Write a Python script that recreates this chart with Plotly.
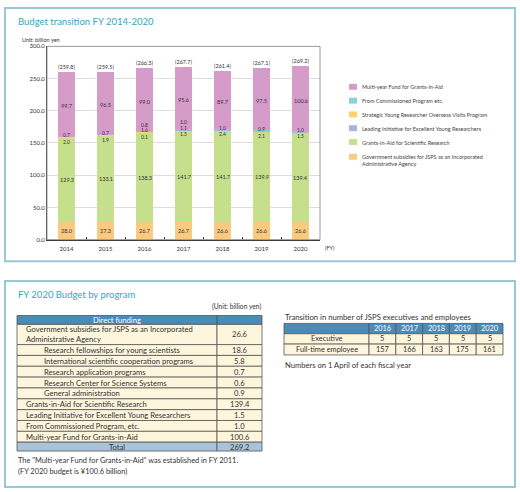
import plotly.graph_objects as go

# ---------------- data ----------------
years = ["2014", "2015", "2016", "2017", "2018", "2019", "2020"]
gov = [28.0, 27.3, 26.7, 26.7, 26.6, 26.6, 26.6]
grants = [129.3, 133.1, 138.3, 141.7, 141.7, 139.9, 139.4]
leading = [0, 0, 0.1, 1.5, 2.4, 2.1, 1.5]
strategic = [2.0, 1.9, 1.6, 1.1, 0, 0, 0]
commissioned = [0.7, 0.7, 0.8, 1.0, 1.0, 0.9, 1.0]
multi = [99.7, 96.5, 99.0, 95.6, 89.7, 97.5, 100.6]
totals = [259.8, 259.5, 266.3, 267.7, 261.4, 267.1, 269.2]

series_names = [
    "Government subsidies for JSPS as an Incorporated<br>Administrative Agency",
    "Grants-in-Aid for Scientific Research",
    "Leading Initiative for Excellent Young Researchers",
    "Strategic Young Researcher Overseas Visits Program",
    "From Commissioned Program etc.",
    "Multi-year Fund for Grants-in-Aid",
]
series_values = [gov, grants, leading, strategic, commissioned, multi]
series_colors = ["#fcca7c", "#c6df8d", "#a9b3db", "#fdd46b", "#84d3dc", "#d59cc9"]

y_ticks = [0, 50, 100, 150, 200, 250, 300]

prog_labels = [
    "Government subsidies for JSPS as an Incorporated<br>Administrative Agency",
    "Research fellowships for young scientists",
    "International scientific cooperation programs",
    "Research application programs",
    "Research Center for Science Systems",
    "General administration",
    "Grants-in-Aid for Scientific Research",
    "Leading Initiative for Excellent Young Researchers",
    "From Commissioned Program, etc.",
    "Multi-year Fund for Grants-in-Aid",
    "Total",
]
prog_sub = [False, True, True, True, True, True, False, False, False, False, False]
prog_values = [26.6, 18.6, 5.8, 0.7, 0.6, 0.9, 139.4, 1.5, 1.0, 100.6, 269.2]

staff_years = ["2016", "2017", "2018", "2019", "2020"]
staff_rows = ["Executive", "Full-time employee"]
executives = [5, 5, 5, 5, 5]
employees = [157, 166, 163, 175, 161]

# ---------------- helpers ----------------
W, H = 520, 492
F = "Lato"
TEAL = "#33a8bd"
TXT = "#333333"
BLUE = "#4a8bb8"
CREAM = "#fdf6dc"
TOTAL_FILL = "#a8c3da"
GRID = "#555555"
TBL = 7.6


def px(x):
    return x / W


def py(y):
    return 1 - y / H


fig = go.Figure()

for name, vals, col in zip(series_names, series_values, series_colors):
    fig.add_trace(go.Bar(
        x=years, y=vals, name=name, marker=dict(color=col, line=dict(width=0)),
        showlegend=False, hoverinfo="skip"))

ann = []
shapes = []
lab_font = dict(family=F, size=5.5, color=TXT)
small_font = dict(family=F, size=5, color=TXT)
for i, yr in enumerate(years):
    ann.append(dict(x=i, y=gov[i] / 2, text=f"{gov[i]:.1f}", showarrow=False, font=lab_font))
    ann.append(dict(x=i, y=gov[i] + grants[i] / 2, text=f"{grants[i]:.1f}", showarrow=False, font=lab_font))
    green_top = gov[i] + grants[i]
    smalls = [v for v in (leading[i], strategic[i], commissioned[i]) if v]
    small_top = green_top + sum(smalls)
    ann.append(dict(x=i, y=small_top + multi[i] / 2 - 3, text=f"{multi[i]:.1f}", showarrow=False, font=lab_font))
    for k, v in enumerate(smalls):
        yy = green_top - 5 if k == 0 else small_top + 2 + 9 * (k - 1)
        ann.append(dict(x=i, y=yy, text=f"{v:.1f}", showarrow=False, font=small_font, borderpad=0))
    ann.append(dict(x=i, y=small_top + multi[i], text=f"({totals[i]:.1f})", showarrow=False,
                    yanchor="bottom", yshift=0, font=lab_font))


def ptext(x, y, text, size, color=TXT, xanchor="left", align="left"):
    ann.append(dict(xref="paper", yref="paper", x=px(x), y=py(y), text=text, showarrow=False,
                    xanchor=xanchor, yanchor="middle", align=align,
                    font=dict(family=F, size=size, color=color)))


ptext(16, 18, "Budget transition FY 2014-2020", 9.5, TEAL)
ptext(20, 37, "Unit: billion yen", 5.5)
ptext(323, 248, "(FY)", 5.5)
ptext(16, 295, "FY 2020 Budget by program", 9.5, TEAL)
ptext(263, 307, "(Unit: billion yen)", 6.7, xanchor="right")
ptext(16, 463, "The \"Multi-year Fund for Grants-in-Aid\" was established in FY 2011.", 7.4)
ptext(16, 474, "(FY 2020 budget is ¥100.6 billion)", 7.4)
ptext(283, 318, "Transition in number of JSPS executives and employees", 7.7)
ptext(283, 366, "Numbers on 1 April of each fiscal year", 7.6)

shapes += [
    dict(type="rect", xref="paper", yref="paper", x0=px(5), x1=px(515), y0=py(4), y1=py(261),
         line=dict(color="#96c8d6", width=2), layer="below"),
    dict(type="rect", xref="paper", yref="paper", x0=px(5), x1=px(515), y0=py(281), y1=py(490),
         line=dict(color="#96c8d6", width=2), layer="below"),
    dict(type="rect", xref="x domain", yref="y domain", x0=0, x1=1, y0=0, y1=1,
         line=dict(color="#9a9a9a", width=1), layer="above"),
]

# custom legend
leg_rows = [84, 98, 112, 126, 140, 155]
for row_y, idx in zip(leg_rows, [5, 4, 3, 2, 1, 0]):
    shapes.append(dict(type="rect", xref="paper", yref="paper", x0=px(349), x1=px(357),
                       y0=py(row_y - 3), y1=py(row_y + 3), fillcolor=series_colors[idx],
                       line=dict(width=0)))
    ann.append(dict(xref="paper", yref="paper", x=px(360), y=py(row_y - 4.5), text=series_names[idx],
                    showarrow=False, xanchor="left", yanchor="top", align="left",
                    font=dict(family=F, size=5.5, color="#444")))


def cell(x0, x1, y0, y1, fill):
    shapes.append(dict(type="rect", xref="paper", yref="paper", x0=px(x0), x1=px(x1),
                       y0=py(y1), y1=py(y0), fillcolor=fill, line=dict(color=GRID, width=0.8)))


# ---------------- left table ----------------
TX = [17, 217, 262]
row_edges = [316, 325, 345.5, 356.5, 367.5, 378.5, 389.5, 400.5, 411.5, 422.5, 433.5, 444.5, 453.5]
cell(TX[0], TX[1], row_edges[0], row_edges[1], BLUE)
cell(TX[1], TX[2], row_edges[0], row_edges[1], BLUE)
ptext((TX[0] + TX[1]) / 2, (row_edges[0] + row_edges[1]) / 2, "Direct funding", TBL, "white", "center")
n = len(prog_labels)
for r in range(n):
    y0, y1 = row_edges[r + 1], row_edges[r + 2]
    fill = TOTAL_FILL if r == n - 1 else CREAM
    cell(TX[0], TX[1], y0, y1, fill)
    cell(TX[1], TX[2], y0, y1, fill)
    yc = (y0 + y1) / 2
    if r == n - 1:
        ptext((TX[0] + TX[1]) / 2, yc, prog_labels[r], TBL, xanchor="center", align="center")
    else:
        ptext(42 if prog_sub[r] else 24, yc, prog_labels[r], TBL)
    ptext((TX[1] + TX[2]) / 2, yc, f"{prog_values[r]:.1f}", TBL, xanchor="center", align="center")

# ---------------- right table ----------------
RX = [284, 369] + [369 + (503 - 369) * (k + 1) / 5 for k in range(5)]
RY = [324, 334.5, 345, 356]
for c in range(len(RX) - 1):
    cell(RX[c], RX[c + 1], RY[0], RY[1], BLUE)
    if c > 0:
        ptext((RX[c] + RX[c + 1]) / 2, (RY[0] + RY[1]) / 2, staff_years[c - 1], 7.4, "white", "center")
staff_vals = [executives, employees]
for r in range(2):
    y0, y1 = RY[r + 1], RY[r + 2]
    yc = (y0 + y1) / 2
    for c in range(len(RX) - 1):
        cell(RX[c], RX[c + 1], y0, y1, CREAM)
        txt = staff_rows[r] if c == 0 else str(staff_vals[r][c - 1])
        ptext((RX[c] + RX[c + 1]) / 2, yc, txt, 7.4, xanchor="center", align="center")

fig.update_layout(
    width=W, height=H, margin=dict(l=0, r=0, t=0, b=0),
    paper_bgcolor="white", plot_bgcolor="white",
    barmode="stack", bargap=0.54,
    annotations=ann, shapes=shapes, showlegend=False,
    xaxis=dict(domain=[px(47), px(320)], type="category", range=[-0.5, 6.5], tickson="boundaries",
               ticks="inside", ticklen=3, tickcolor="#333", showline=True, linecolor="#333",
               linewidth=1, showgrid=False, tickfont=dict(family=F, size=6, color=TXT),
               fixedrange=True, tickangle=0, ticklabelstandoff=3),
    yaxis=dict(domain=[py(239), py(43)], range=[0, 300], tickvals=y_ticks, tickformat=".1f",
               showline=True, linecolor="#333", linewidth=1, gridcolor="#dddddd",
               ticks="", tickfont=dict(family=F, size=6, color=TXT), zeroline=False,
               fixedrange=True),
)

fig.write_html("out.html", config={"displayModeBar": False},
               post_script="document.body.style.margin='0';")
